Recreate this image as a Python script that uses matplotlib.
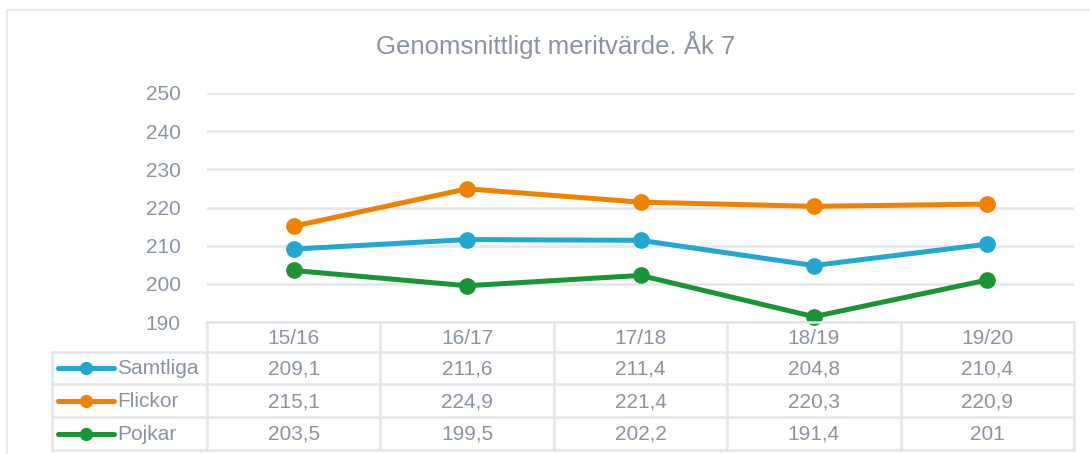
import matplotlib
matplotlib.use("Agg")
import matplotlib.pyplot as plt
from matplotlib.lines import Line2D
from matplotlib.patches import Rectangle

# ── Data ──────────────────────────────────────────────────────────────────────
years    = ["15/16", "16/17", "17/18", "18/19", "19/20"]
samtliga = [209.1, 211.6, 211.4, 204.8, 210.4]
flickor  = [215.1, 224.9, 221.4, 220.3, 220.9]
pojkar   = [203.5, 199.5, 202.2, 191.4, 201]
series_names = ["Samtliga", "Flickor", "Pojkar"]
yticks = [190, 200, 210, 220, 230, 240, 250]

# ── Style ─────────────────────────────────────────────────────────────────────
BLUE   = "#21A7D1"
ORANGE = "#F08200"
GREEN  = "#1A9434"
TXT    = "#8A93A3"
GRID   = "#E2E5EA"
colors = [BLUE, ORANGE, GREEN]
FS = 15

plt.rcParams["font.family"] = ["Liberation Sans", "DejaVu Sans"]

W, H = 1090, 454
fig = plt.figure(figsize=(W / 100, H / 100), dpi=100, facecolor="white")

def px(x0, y0, x1, y1):
    # pixel box (top-left origin) -> figure fraction rect
    return [x0 / W, 1 - y1 / H, (x1 - x0) / W, (y1 - y0) / H]

# outer chart border (only left/top visible)
fig.patches.append(Rectangle((7 / W, -0.1), 1.2, 1 - 10 / H + 0.1,
                             transform=fig.transFigure, fill=False,
                             edgecolor=GRID, lw=1.2))

fig.text(556 / W, 1 - 45 / H, "Genomsnittligt meritvärde. Åk 7",
         ha="center", va="center", fontsize=18.5, color=TXT)

# ── Line plot ─────────────────────────────────────────────────────────────────
L, R = 207, 1074
ax = fig.add_axes(px(L, 93, R, 322))
x = list(range(len(years)))
for vals, c in zip([samtliga, flickor, pojkar], colors):
    ax.plot(x, vals, color=c, lw=3.6, marker="o", ms=11, zorder=3,
            solid_capstyle="round", clip_on=False)
ax.set_xlim(-0.5, len(years) - 0.5)
ax.set_ylim(190, 250)
ax.set_yticks(yticks)
ax.set_xticks([])
ax.tick_params(axis="y", length=0, pad=19, labelsize=FS, labelcolor=TXT)
ax.grid(axis="y", color=GRID, lw=1.8, zorder=0)
for sp in ax.spines.values():
    sp.set_visible(False)

# ── Data table ────────────────────────────────────────────────────────────────
tab = fig.add_axes(px(L, 322, R, 450))
tab.set_xlim(-0.5, len(years) - 0.5)
row_edges = [0, 30, 62, 95, 128]
tab.set_ylim(128, 0)
tab.axis("off")
col_w = (R - L) / len(years)
x_leg = -0.5 - (L - 52) / col_w

lkw = dict(color=GRID, lw=1.8, clip_on=False, zorder=1)
# horizontal lines
tab.plot([-0.5, 4.5], [0, 0], **lkw)
for ye in row_edges[1:]:
    tab.plot([x_leg, 4.5], [ye, ye], **lkw)
# vertical lines
for i in range(len(years) + 1):
    tab.plot([i - 0.5, i - 0.5], [0, 128], **lkw)
tab.plot([x_leg, x_leg], [30, 128], **lkw)

for i, yr in enumerate(years):
    tab.text(i, 16, yr, ha="center", va="center", fontsize=FS, color=TXT)

for r, (name, vals, c) in enumerate(zip(series_names,
                                        [samtliga, flickor, pojkar], colors)):
    yc = (row_edges[r + 1] + row_edges[r + 2]) / 2 + 1
    for i, v in enumerate(vals):
        s = f"{v:g}".replace(".", ",")
        tab.text(i, yc, s, ha="center", va="center", fontsize=FS, color=TXT)
    xa = x_leg + 6 / col_w
    xb = x_leg + 62 / col_w
    tab.add_line(Line2D([xa, xb], [yc - 1, yc - 1], color=c, lw=3.6,
                        solid_capstyle="round", clip_on=False))
    tab.add_line(Line2D([(xa + xb) / 2], [yc - 1], color=c, marker="o",
                        ms=8.5, clip_on=False))
    tab.text(x_leg + 65 / col_w, yc, name, ha="left", va="center",
             fontsize=FS, color=TXT)

fig.savefig("out.png", dpi=100, facecolor="white")
